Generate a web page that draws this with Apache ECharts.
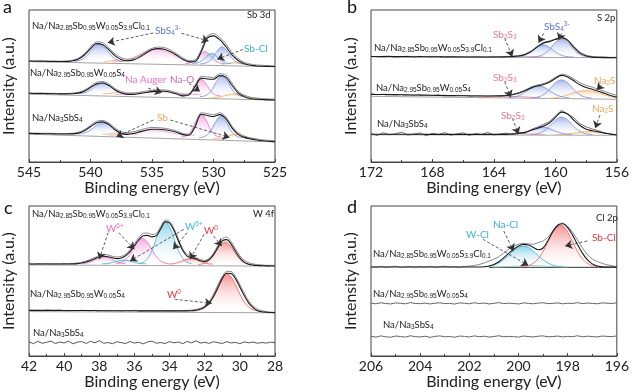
<!DOCTYPE html>
<html>
<head>
<meta charset="utf-8">
<script src="https://cdn.jsdelivr.net/npm/echarts@6/dist/echarts.min.js"></script>
<style>
  html, body { margin: 0; padding: 0; background: #fff; }
  #chart { width: 632px; height: 392px; }
</style>
</head>
<body>
<div id="chart"></div>
<script>
// ---- panel a : Sb 3d ----
const xA = [545,544.5,544,543.5,543,542.5,542,541.5,541,540.5,540,539.5,539,538.5,538,537.5,537,536.5,536,535.5,535,534.5,534,533.5,533,532.5,532,531.5,531,530.5,530,529.5,529,528.5,528,527.5,527,526.5,526,525.5,525];
const a1Fit = [66.4,66.3,66.3,66.2,66.1,66.1,66.1,66.5,67.6,70.4,74.6,77.9,77.2,73.8,69.8,67.4,66.6,67.2,69,71.6,73.8,74.6,74.2,72.6,70.2,67.6,65.9,66,72.5,81.5,83,80.5,76,70.5,66.8,64.6,63.6,63.2,63,62.9,62.8];
const a1Raw = [66.7,66.5,66.6,66.4,66.5,66.3,66.5,66.9,68.2,71.2,75.6,79,78.5,75,71,68.6,67.6,68.1,69.9,72.6,74.8,75.6,75.3,73.7,71.2,68.6,66.8,67.1,74,83,84.4,82,77.8,72,68,65.6,64.4,63.8,63.6,63.4,63.3];
const a2Fit = [45.2,45.1,45.1,45,44.9,44.8,44.8,44.9,45.3,46.6,49,51.4,52,50.3,47.4,45.4,44.5,44.5,45,45.7,46.3,46.6,46.5,45.9,44.7,43.5,44,49.5,55.2,54.6,54.4,56.8,55.8,50.5,45.4,43,41.8,41.3,41.1,40.9,40.8];
const a2Raw = [45.5,45.3,45.4,45.2,45.2,45,45.1,45.3,45.8,47.3,49.8,52.4,53,51.3,48.3,46.3,45.4,45.4,45.9,46.6,47.1,47.5,47.4,46.8,45.6,44.4,44.8,50.6,56.4,56,55.6,58,57.2,52,46.6,44,42.6,42,41.7,41.5,41.4];
const a3Fit = [18.8,18.7,18.6,18.6,18.5,18.4,18.4,18.5,19,20.6,23.2,25.8,26.4,24.6,21.2,18.8,18.2,18.7,19.8,20.9,21.5,21.5,21.2,20.6,19.6,18,17.6,23,31.4,30.6,29.8,31.2,28.6,22.5,18.2,16.2,15.2,14.5,14,13.7,13.4];
const a3Raw = [19.1,19,18.9,18.9,18.8,18.7,18.7,18.9,19.5,21.3,24.2,26.8,27.4,25.6,22.3,19.9,19.4,19.9,21,22.1,22.7,22.6,22.2,21.5,20.4,18.8,18.3,24,32.4,31.8,31,32.4,29.8,23.6,19.2,17,15.9,15.1,14.6,14.2,13.9];
const a1Bg = [[545,66], [525,62.7]];
const a2Bg = [[545,44.6], [525,40.7]];
const a3Bg = [[545,18.3], [525,13.2]];
const a1Sb1 = [[541.3,66.2],[540.8,67.1],[540.3,69.9],[539.8,74.7],[539.3,77.4],[538.8,74.7],[538.3,69.9],[537.8,67.1],[537.3,66.2]];
const a1Sb0 = [[538.9,66],[538.4,66.4],[537.9,66.9],[537.4,66.4],[536.9,66]];
const a1Aug = [[538.2,65.7],[537.7,66.1],[536.95,67.4],[536.2,70],[535.45,73],[534.7,74.4],[533.95,73],[533.2,70],[532.45,67.4],[531.7,66.1],[531.2,65.7]];
const a1NaO = [[532.3,64.8],[531.9,65.2],[531.5,67],[531.1,70.5],[530.7,72.6],[530.3,70.5],[529.9,67],[529.5,65.2],[529.1,64.8]];
const a1SbCl = [[531.75,64.7],[531.35,65.1],[530.95,66.6],[530.55,69.7],[530.15,71.5],[529.75,69.7],[529.35,66.6],[528.95,65.1],[528.55,64.7]];
const a1Sb2 = [[531.1,64.5],[530.65,65.1],[530.2,67.4],[529.75,72.5],[529.3,75.8],[528.85,72.5],[528.4,67.4],[527.95,65.1],[527.5,64.5]];
const a1Sb0b = [[529.3,64.2],[528.8,64.8],[528.3,65.4],[527.8,64.8],[527.3,64.2]];
const a2Sb1 = [[541,45],[540.5,45.5],[540,47.4],[539.5,50.4],[539,52],[538.5,50.4],[538,47.4],[537.5,45.5],[537,45]];
const a2Sb0 = [[539,44.8],[538.3,45.3],[537.6,45.8],[536.9,45.3],[536.2,44.8]];
const a2Aug = [[538,44.3],[537,44.7],[536,45.5],[535.2,46.2],[534.5,46.5],[533.8,46.2],[533,45.5],[532,44.7],[531,44.3]];
const a2NaO = [[532.6,43.4],[532.2,44],[531.8,46.3],[531.4,51.1],[531,54.5],[530.6,51.1],[530.2,46.3],[529.8,44],[529.4,43.4]];
const a2Sb2 = [[531.1,43],[530.65,43.7],[530.2,46.6],[529.75,52.9],[529.3,57],[528.85,52.9],[528.4,46.6],[527.95,43.7],[527.5,43]];
const a2Sb0b = [[530.3,42],[529.5,42.8],[528.9,44],[528.3,44.8],[527.7,44],[527.1,42.8],[526.3,42]];
const a3Sb1 = [[541,18.4],[540.5,19.1],[540,21],[539.5,24.2],[539,26],[538.5,24.2],[538,21],[537.5,19.1],[537,18.4]];
const a3Sb0 = [[539,18.1],[538.3,18.6],[537.6,19.2],[536.9,18.6],[536.2,18.1]];
const a3Aug = [[538.5,17.6],[537.5,18],[536.5,19.2],[535.7,20.6],[535,21.4],[534.3,20.6],[533.5,19.2],[532.5,18],[531.5,17.6]];
const a3NaO = [[532.6,16.5],[532.2,17.3],[531.8,20.7],[531.4,27.5],[531,31.5],[530.6,27.5],[530.2,20.7],[529.8,17.3],[529.4,16.5]];
const a3Sb2 = [[531.2,16],[530.75,16.7],[530.3,19.7],[529.85,26.1],[529.4,30.2],[528.95,26.1],[528.5,19.7],[528.05,16.7],[527.6,16]];
const a3Sb0b = [[530,15.3],[529.3,16],[528.7,17.5],[528.2,18.3],[527.7,17.5],[527.1,16],[526.4,15.3]];

// ---- panel b : S 2p ----
const xB = [172,171.6,171.2,170.8,170.4,170,169.6,169.2,168.8,168.4,168,167.6,167.2,166.8,166.4,166,165.6,165.2,164.8,164.4,164,163.6,163.2,162.8,162.4,162,161.6,161.2,160.8,160.4,160,159.6,159.2,158.8,158.4,158,157.6,157.2,156.8,156.4,156];
const b1Fit = [69.4,69.4,69.3,69.4,69.3,69.3,69.3,69.2,69.3,69.2,69.2,69.2,69.1,69.2,69.1,69.1,69.1,69.1,69.1,69.1,69.1,69.1,69.2,69.3,69.7,70.6,72.5,75.6,78.2,79.2,80.6,81.8,80,75.4,71.6,69.7,69,68.8,68.7,68.7,68.6];
const b1Raw = [69.6,69.2,69.5,69.7,69.1,69.4,69.6,69,69.5,69.3,69,69.4,69.3,68.9,69.4,69.2,69,69.3,69.2,68.9,69.3,69.2,69.1,69.5,69.9,70.9,72.8,75.9,78.6,79.6,81,82.3,80.6,76.1,72.3,70.2,69.4,69.1,69.2,68.8,69];
const b2Fit = [44.5,44.4,44.4,44.3,44.3,44.2,44.1,44.1,44,43.9,43.9,43.8,43.7,43.7,43.6,43.6,43.5,43.4,43.4,43.4,43.4,43.5,43.7,44.2,45.2,46.8,48.6,50,50.8,52.4,55,57,56,53.4,50.8,49,47.8,46.6,45.2,43.8,42.6];
const b2Raw = [44.8,44.3,44.6,44.5,44.1,44.4,44.3,43.9,44.2,44.1,43.7,44,43.9,43.6,43.8,43.7,43.4,43.7,43.5,43.3,43.6,43.6,43.9,44.5,45.6,47.2,49.2,50.6,51.5,53.1,55.8,57.8,57,54.6,52.2,50.4,49.2,47.8,46.5,45,43.8];
const b3Fit = [18.3,18.3,18.3,18.3,18.3,18.3,18.3,18.3,18.3,18.2,18.2,18.2,18.2,18.2,18.2,18.2,18.2,18.2,18.2,18.2,18.2,18.2,18.2,18.4,18.8,19.5,20.7,22,23.5,25.6,29.4,32.8,31.6,27.6,24,21.6,20.6,19.8,19,18.3,17.9];
const b3Raw = [18.8,17.4,19.3,17.9,18.6,19.6,17.7,18.4,19.1,17.2,18.9,18,19.4,17.6,18.5,19.2,17.5,18.7,18.1,19.5,17.8,18.4,19,18.2,19.6,18.9,21.2,22.8,24.6,26.4,30.2,34,31.4,29.2,25.2,23.1,21.8,20.6,19.1,18.6,17.6];
const b1Bg = [[172,69.2], [156,68.6]];
const b2Bg = [[172,43.2], [156,41.3]];
const b3Bg = [[172,17.9], [156,17.6]];
const b1Sb2S3 = [[164.4,69.1],[163.4,69.4],[162.6,69.7],[161.8,69.4],[160.8,69.1]];
const b1S1 = [[162.8,69.1],[162.4,69.3],[162,70.2],[161.6,72.4],[161.2,75.5],[160.8,77.1],[160.4,75.5],[160,72.4],[159.6,70.2],[159.2,69.3],[158.8,69.1]];
const b1S2 = [[161.6,69],[161.2,69.4],[160.8,70.7],[160.4,73.9],[160,78.6],[159.6,81],[159.2,78.6],[158.8,73.9],[158.4,70.7],[158,69.4],[157.6,69]];
const b2Sb2S3 = [[165,42.2],[164,42.6],[163,43.2],[162,42.8],[161,42.3]];
const b2S1 = [[163.1,42.3],[162.7,42.8],[162.3,44],[161.9,46.4],[161.5,49],[161.1,50.2],[160.7,49],[160.3,46.4],[159.9,44],[159.5,42.8],[159.1,42.3]];
const b2S2 = [[161.6,42.1],[161.2,42.6],[160.8,44.2],[160.4,47.6],[160,52],[159.6,54],[159.2,52],[158.8,47.6],[158.4,44.2],[158,42.6],[157.6,42.1]];
const b2Na2S = [[160.5,41.7],[160,42.3],[159.5,43.3],[159,44.8],[158.5,46.3],[158,47],[157.5,46.3],[157,44.8],[156.5,43.3],[156,42.3]];
const b3Sb2S3 = [[164.3,18],[163.3,18.4],[162.5,18.8],[161.7,18.4],[160.7,18]];
const b3S1 = [[162.9,18.1],[162.5,18.4],[162.1,19.2],[161.7,20.7],[161.3,22.4],[160.9,23.2],[160.5,22.4],[160.1,20.7],[159.7,19.2],[159.3,18.4],[158.9,18.1]];
const b3S2 = [[161.6,18.1],[161.2,18.6],[160.8,20.1],[160.4,23.4],[160,27.5],[159.6,29.5],[159.2,27.5],[158.8,23.4],[158.4,20.1],[158,18.6],[157.6,18.1]];
const b3Na2S = [[160,17.9],[159.3,18.3],[158.6,19.2],[157.8,20.1],[157,19.2],[156.3,18.3],[156,18]];

// ---- panel c : W 4f ----
const xC = [42,41.75,41.5,41.25,41,40.75,40.5,40.25,40,39.75,39.5,39.25,39,38.75,38.5,38.25,38,37.75,37.5,37.25,37,36.75,36.5,36.25,36,35.75,35.5,35.25,35,34.75,34.5,34.25,34,33.75,33.5,33.25,33,32.75,32.5,32.25,32,31.75,31.5,31.25,31,30.75,30.5,30.25,30,29.75,29.5,29.25,29,28.75,28.5,28.25,28];
const c1Fit = [61.3,61.3,61.3,61.3,61.3,61.3,61.3,61.3,61.3,61.3,61.4,61.6,62,62.7,63.7,64.9,66,66.5,66.2,65.4,64.9,65.3,66.8,69.6,73.5,77.5,80.2,80.4,79.4,80.2,84.8,89.4,88.6,83.8,76.8,70.4,66.6,65.6,64.8,63.5,63,64.2,67.4,72.4,76.8,77.6,74.6,69.8,65.4,62.6,61.2,60.6,60.3,60.2,60.1,60,60];
const c1Raw = [61.5,61.2,61.6,61.4,61.7,61.3,61.6,61.4,61.7,61.5,61.7,62,62.5,63.3,64.4,65.7,67,67.6,67.3,66.5,66,66.4,67.9,70.8,74.9,79,81.8,82,81,81.8,86.4,90.6,89.8,85,78,71.6,67.7,66.5,65.6,64.3,63.8,65.2,68.6,73.8,78.3,79.2,76.2,71.4,66.8,63.8,62.2,61.4,60.9,60.8,60.4,60.5,60.3];
const c2Fit = [30.4,30.4,30.4,30.4,30.4,30.4,30.4,30.4,30.3,30.3,30.3,30.3,30.3,30.3,30.3,30.3,30.2,30.2,30.2,30.2,30.2,30.2,30.2,30.2,30.2,30.1,30.1,30.1,30.1,30.1,30.1,30.1,30.1,30.1,30.1,30.1,30.1,30.2,30.5,31.2,32.5,35.2,39.5,45.4,51.6,55.2,55,51.6,46,40.2,35.4,32.2,30.2,29.5,29.2,29,28.9];
const c2Raw = [30.6,30.3,30.5,30.2,30.6,30.4,30.2,30.5,30.3,30.1,30.4,30.2,30.5,30.3,30.1,30.4,30.2,30.4,30.1,30.3,30.2,30,30.3,30.2,30.4,30.1,30,30.3,30.2,30,30.3,30.1,30.2,30,30.3,30.2,30.4,30.6,31.1,31.9,33.4,36.2,40.6,46.6,52.8,56.4,56.3,53,47.6,41.8,36.8,33.4,31.2,30.2,29.7,29.3,29.1];
const c3Raw = [9.4,8.2,9.8,8.5,9.1,10,8.3,9.3,8.7,9.9,8.1,9.2,9.6,8.4,9.8,8.8,10.2,8.5,9,8.2,9.5,8.9,8.3,9.7,8.6,9.2,8.1,9.4,9.9,8.5,9,8.3,9.6,8.8,9.3,8.2,9.7,8.7,10.1,8.6,9.2,8.4,9.5,8.9,8.3,9.6,8.7,9.1,8.2,9.4,8.8,9.3,8.5,9,8.6,9.2,8.8];
const c1Bg = [[42,60.7], [28,59.9]];
const c2Bg = [[42,29.6], [28,28.8]];
const c1W6a = [[39,61.6],[38.75,61.9],[38.5,62.7],[38.25,64.1],[38,65.6],[37.75,66.3],[37.5,65.6],[37.25,64.1],[37,62.7],[36.75,61.9],[36.5,61.6]];
const c1W5a = [[37.85,61.5],[37.6,61.6],[37.35,62],[37.1,62.8],[36.85,63.6],[36.6,64],[36.35,63.6],[36.1,62.8],[35.85,62],[35.6,61.6],[35.35,61.5]];
const c1W6b = [[37.05,61.6],[36.8,62.1],[36.55,63.7],[36.3,66.9],[36.05,71.7],[35.8,76.4],[35.55,78.4],[35.3,76.4],[35.05,71.7],[34.8,66.9],[34.55,63.7],[34.3,62.1],[34.05,61.6]];
const c1W5b = [[35.75,61.6],[35.5,62.5],[35.25,65.1],[35,70.3],[34.75,78.4],[34.5,85.9],[34.25,89.3],[34,85.9],[33.75,78.4],[33.5,70.3],[33.25,65.1],[33,62.5],[32.75,61.6]];
const c1W0a = [[34.05,61.3],[33.8,61.5],[33.55,62.2],[33.3,63.2],[33.05,64.5],[32.8,65],[32.55,64.5],[32.3,63.2],[32.05,62.2],[31.8,61.5],[31.55,61.3]];
const c1W0b = [[32.35,61],[32.1,61.5],[31.85,62.9],[31.6,65.7],[31.35,70.1],[31.1,74.2],[30.85,76],[30.6,74.2],[30.35,70.1],[30.1,65.7],[29.85,62.9],[29.6,61.5],[29.35,61]];
const c2W0 = [[32.75,29.9],[32.5,30.2],[32.25,30.9],[32,32.6],[31.75,36],[31.5,41.3],[31.25,47.5],[31,52.7],[30.75,54.8],[30.5,52.7],[30.25,47.5],[30,41.3],[29.75,36],[29.5,32.6],[29.25,30.9],[29,30.2],[28.75,29.9]];

// ---- panel d : Cl 2p ----
const xD = [206,205.8,205.6,205.4,205.2,205,204.8,204.6,204.4,204.2,204,203.8,203.6,203.4,203.2,203,202.8,202.6,202.4,202.2,202,201.8,201.6,201.4,201.2,201,200.8,200.6,200.4,200.2,200,199.8,199.6,199.4,199.2,199,198.8,198.6,198.4,198.2,198,197.8,197.6,197.4,197.2,197,196.8,196.6,196.4,196.2,196];
const d1Fit = [59.3,59.3,59.3,59.3,59.3,59.3,59.3,59.3,59.3,59.3,59.3,59.3,59.3,59.3,59.3,59.3,59.3,59.3,59.3,59.3,59.3,59.3,59.3,59.5,60,61,62.8,65.4,68.4,71.2,73.4,74.4,74,72.4,70.8,72,77,83,87.2,88.2,85.6,80.6,74.4,68.6,64.2,61.4,60,59.5,59.3,59.3,59.3];
const d1Raw = [59.6,59.1,59.8,59.2,59.5,59.9,59,59.4,59.7,59.1,59.6,59.3,59.8,59.2,59.5,59.9,59.3,59.6,59.1,59.7,60,60.3,61,62,63.2,64.6,66.2,68.6,71.2,73.2,74.6,75,74.8,74.4,75.6,76.6,79.2,83.6,87.6,88.8,86.6,82.6,77.4,72,67.6,64.6,63,61.8,60.8,60.2,59.6];
const d2Raw = [35.3,34.8,35.5,35,34.7,35.4,35.1,34.8,35.6,35,34.9,35.3,34.7,35.2,35.5,34.9,35.1,34.6,35.4,35.2,34.8,35.5,35,35.3,34.7,35.1,35.6,34.9,35.2,35,34.7,35.4,35.1,34.8,35.3,35.5,34.9,35.1,35.4,34.8,35.2,35,35.6,34.9,35.3,35.1,34.8,35.4,35.2,35,35.5];
const d3Raw = [13.2,12.6,13.4,12.8,12.5,13.3,13,12.6,13.5,12.9,12.7,13.2,12.4,13.1,13.4,12.8,13,12.5,13.3,13.1,12.7,13.4,12.9,13.2,12.6,13,13.5,12.8,13.1,12.9,12.6,13.3,13,12.7,13.2,13.4,12.8,13,13.3,12.7,13.1,12.9,13.5,12.8,13.2,13,12.7,13.3,13.1,12.9,13.4];
const d1Bg = [[201.2,59.1], [196,59.1]];
const d1NaCl = [[201.4,59.5],[201.2,59.8],[201,60.6],[200.8,62],[200.6,64.2],[200.4,67],[200.2,70],[200,72.4],[199.8,73.3],[199.6,72.4],[199.4,70],[199.2,67],[199,64.2],[198.8,62],[198.6,60.6],[198.4,59.8],[198.2,59.5]];
const d1WCl = [[201,59.3],[200.2,59.8],[199.5,60.3],[198.8,59.8],[198,59.3]];
const d1SbCl = [[199.9,59.4],[199.7,59.9],[199.5,60.9],[199.3,63.1],[199.1,67.1],[198.9,72.9],[198.7,79.6],[198.5,85.1],[198.3,87.3],[198.1,85.1],[197.9,79.6],[197.7,72.9],[197.5,67.1],[197.3,63.1],[197.1,60.9],[196.9,59.9],[196.7,59.4]];

// ---- drawing ----
const FONT = 'Lato, "Open Sans", sans-serif';
const COLORS = {
  blue:   { line: '#7f97dc', top: 'rgba(112,138,222,0.9)' },
  orange: { line: '#f3b26c', top: 'rgba(246,180,100,0.8)' },
  auger:  { line: '#f2a3d8', top: 'rgba(240,140,210,0.75)' },
  pink:   { line: '#e47acb', top: 'rgba(236,110,200,0.85)' },
  cyan:   { line: '#4bb8d8', top: 'rgba(60,180,220,0.85)' },
  red:    { line: '#f06868', top: 'rgba(238,70,70,0.85)' },
  rose:   { line: '#f08aa0', top: 'rgba(240,140,160,0.5)' },
  green:  { line: '#86d3b9', top: 'rgba(140,215,190,0.5)' }
};

const chart = echarts.init(document.getElementById('chart'));
const series = [];
const pairs = (xs, ys) => xs.map((x, i) => [x, ys[i]]);

function addLine(g, data, color, width, smooth, z) {
  series.push({
    type: 'line', xAxisIndex: g, yAxisIndex: g, data, symbol: 'none',
    smooth: smooth ? 0.3 : false, lineStyle: { color, width }, z: z || 3, silent: true
  });
}
function addComp(g, data, key) {
  const c = COLORS[key];
  series.push({
    type: 'line', xAxisIndex: g, yAxisIndex: g, data, symbol: 'none', smooth: 0.4,
    lineStyle: { color: c.line, width: 0.9 }, z: 2, silent: true,
    areaStyle: {
      origin: Math.min(data[0][1], data[data.length - 1][1]),
      color: new echarts.graphic.LinearGradient(0, 0, 0, 1, [
        { offset: 0, color: c.top },
        { offset: 1, color: 'rgba(255,255,255,0.15)' }
      ])
    }
  });
}
function arrows(list) {
  return {
    silent: true, symbol: ['none', 'arrow'], symbolSize: 7,
    lineStyle: { type: [3, 2], color: '#333', width: 0.8 },
    label: { show: false },
    data: list.map(a => [{ coord: a[0] }, { coord: a[1] }])
  };
}

// panel a
[a1Bg, a2Bg, a3Bg].forEach(b => addLine(0, b, '#9a9a9a', 0.9, false, 1));
[[a1Sb0, 'orange'], [a1Aug, 'auger'], [a1Sb0b, 'orange'], [a1NaO, 'pink'], [a1SbCl, 'cyan'], [a1Sb1, 'blue'], [a1Sb2, 'blue'],
 [a2Sb0, 'orange'], [a2Aug, 'auger'], [a2Sb0b, 'orange'], [a2NaO, 'pink'], [a2Sb1, 'blue'], [a2Sb2, 'blue'],
 [a3Sb0, 'orange'], [a3Aug, 'auger'], [a3Sb0b, 'orange'], [a3NaO, 'pink'], [a3Sb1, 'blue'], [a3Sb2, 'blue']]
  .forEach(c => addComp(0, c[0], c[1]));
[a1Raw, a2Raw, a3Raw].forEach(r => addLine(0, pairs(xA, r), '#8a8a8a', 1, true));
[a1Fit, a2Fit, a3Fit].forEach(f => addLine(0, pairs(xA, f), '#1a1a1a', 1.1, true));
series[series.length - 1].markLine = arrows([
  [[534.9, 84.9], [538.6, 78.5]], [[532.6, 84.7], [530.4, 79.6]], [[527.6, 74.1], [529.7, 67.6]],
  [[535.3, 48.5], [534.2, 45.6]], [[532, 51.8], [531.1, 46.3]],
  [[534.9, 27.6], [537.9, 16.6]], [[533.5, 27.6], [528.7, 16.2]]
]);

// panel b
[b1Bg, b2Bg, b3Bg].forEach(b => addLine(1, b, '#9a9a9a', 0.9, false, 1));
[[b1Sb2S3, 'rose'], [b1S1, 'blue'], [b1S2, 'blue'],
 [b2Sb2S3, 'rose'], [b2Na2S, 'orange'], [b2S1, 'blue'], [b2S2, 'blue'],
 [b3Sb2S3, 'rose'], [b3Na2S, 'orange'], [b3S1, 'blue'], [b3S2, 'blue']]
  .forEach(c => addComp(1, c[0], c[1]));
addLine(1, pairs(xB, b1Raw), '#8a8a8a', 1, false);
addLine(1, pairs(xB, b2Raw), '#8a8a8a', 1, false);
addLine(1, pairs(xB, b3Raw), '#666', 0.9, false);
[b1Fit, b2Fit, b3Fit].forEach(f => addLine(1, pairs(xB, f), '#1a1a1a', 1.1, true));
series[series.length - 1].markLine = arrows([
  [[160.75, 84.7], [161.1, 78.5]], [[159.6, 84.7], [159.8, 80.3]], [[163.3, 81.4], [162.8, 69.3]],
  [[163.3, 52.8], [162.9, 42.6]], [[157, 50.7], [157.3, 47.4]],
  [[162.8, 28.7], [162.4, 18.4]], [[157.1, 30.9], [157.4, 22.2]]
]);

// panel c
[c1Bg, c2Bg].forEach(b => addLine(2, b, '#9a9a9a', 0.9, false, 1));
[[c1W6a, 'pink'], [c1W5a, 'cyan'], [c1W6b, 'pink'], [c1W5b, 'cyan'], [c1W0a, 'red'], [c1W0b, 'red'], [c2W0, 'red']]
  .forEach(c => addComp(2, c[0], c[1]));
addLine(2, pairs(xC, c1Raw), '#8a8a8a', 1, true);
addLine(2, pairs(xC, c2Raw), '#8a8a8a', 1, true);
addLine(2, pairs(xC, c3Raw), '#444', 0.9, false);
[c1Fit, c2Fit].forEach(f => addLine(2, pairs(xC, f), '#1a1a1a', 1.1, true));
series[series.length - 1].markLine = arrows([
  [[37.5, 82.2], [38, 64.5]], [[36.9, 82.2], [36, 71.1]],
  [[33.2, 84.4], [36.25, 63.3]], [[33.0, 82.2], [33.8, 71.1]],
  [[32.04, 81.1], [32.84, 64.5]], [[31.5, 80], [31.03, 73.3]],
  [[33.7, 37.8], [31.6, 35.1]]
]);

// panel d
addLine(3, d1Bg, '#555', 1.3, false, 1);
[[d1WCl, 'green'], [d1NaCl, 'cyan'], [d1SbCl, 'red']].forEach(c => addComp(3, c[0], c[1]));
addLine(3, pairs(xD, d1Raw), '#8a8a8a', 1, false);
addLine(3, pairs(xD, d2Raw), '#555', 0.9, false);
addLine(3, pairs(xD, d3Raw), '#555', 0.9, false);
addLine(3, pairs(xD, d1Fit), '#1a1a1a', 1.1, true);
series[series.length - 1].markLine = arrows([
  [[200.6, 83.3], [200.2, 70]], [[201.45, 77.8], [199.6, 60.4]], [[197.2, 76.7], [198.1, 73.3]]
]);

function xAx(g, min, max, interval) {
  return {
    gridIndex: g, type: 'value', min, max, interval, inverse: true,
    name: 'Binding energy (eV)', nameLocation: 'middle', nameGap: 13,
    nameTextStyle: { fontSize: 16, fontFamily: FONT, color: '#222' },
    axisLine: { show: true, lineStyle: { color: '#444' } },
    axisTick: { inside: true, length: 3, lineStyle: { color: '#444' } },
    minorTick: { show: true, splitNumber: 2, length: 2, lineStyle: { color: '#444' } },
    axisLabel: { fontSize: 14, margin: 3, color: '#222', fontFamily: FONT },
    splitLine: { show: false }
  };
}
function yAx(g) {
  return {
    gridIndex: g, type: 'value', min: 0, max: 100,
    name: 'Intensity (a.u.)', nameLocation: 'middle', nameGap: 12,
    nameTextStyle: { fontSize: 16, fontFamily: FONT, color: '#222' },
    axisLine: { show: false }, axisTick: { show: false }, axisLabel: { show: false }, splitLine: { show: false }
  };
}

const RICH = {
  s: { fontSize: 6.5, lineHeight: 6, verticalAlign: 'bottom' },
  p: { fontSize: 6.5, lineHeight: 6, verticalAlign: 'top' }
};
function txt(x, y, text, color, size) {
  return {
    type: 'text', x, y, silent: true, z: 10,
    style: { text, fill: color || '#222', fontSize: size || 9.5, fontFamily: FONT, verticalAlign: 'middle', lineHeight: 12, rich: RICH }
  };
}
const S1 = 'Na/Na{s|2.85}Sb{s|0.95}W{s|0.05}S{s|3.9}Cl{s|0.1}';
const S2 = 'Na/Na{s|2.95}Sb{s|0.95}W{s|0.05}S{s|4}';
const S3 = 'Na/Na{s|3}SbS{s|4}';
const BLUE = '#5b74d0', PINK = '#ee6fc3', CYAN = '#3db3c8', ORANGE = '#f3a35c', RED = '#e8383a', ROSE = '#ee7790';

const texts = [
  txt(3, 7, 'a', '#111', 18), txt(347, 7, 'b', '#111', 18), txt(4, 208.5, 'c', '#111', 18), txt(347, 207.5, 'd', '#111', 18),
  txt(32, 26, S1), txt(155, 31, 'SbS{s|4}{p|3-}', BLUE, 10), txt(244, 49, 'Sb-Cl', CYAN, 10), txt(247, 15, 'Sb 3d'),
  txt(30, 73, S2), txt(125, 80, 'Na Auger', PINK, 10), txt(170, 80, 'Na-O', '#c566b6', 10),
  txt(32, 118, S3), txt(157, 118, 'Sb', ORANGE, 10),
  txt(597, 18, 'S 2p'), txt(544, 27, 'SbS{s|4}{p|3-}', BLUE, 10), txt(493, 35, 'Sb{s|2}S{s|3}', ROSE, 10),
  txt(374, 48, S1), txt(493, 78, 'Sb{s|2}S{s|3}', ROSE, 10), txt(594, 81, 'Na{s|2}S', ORANGE, 10),
  txt(376, 88, S2), txt(501, 116, 'Sb{s|2}S{s|3}', ROSE, 10), txt(592, 109, 'Na{s|2}S', ORANGE, 10),
  txt(377, 124, S3),
  txt(32, 214, S1), txt(253, 214, 'W 4f'), txt(106, 229, 'W{p|6+}', '#ec6ac6', 10),
  txt(185, 227, 'W{p|5+}', '#3fb9e3', 10), txt(204, 231, 'W{p|0}', RED, 10),
  txt(30, 294, S2), txt(167, 295, 'W{p|0}', RED, 10), txt(33, 333, S3),
  txt(596, 218, 'Cl 2p'), txt(493, 225, 'Na-Cl', '#3aaad8', 10), txt(466, 235, 'W-Cl', CYAN, 10),
  txt(592, 238, 'Sb-Cl', RED, 10),
  txt(373, 254, S1), txt(373, 294, S2), txt(383, 325, S3)
];

const gridBox = { show: true, borderColor: '#444', borderWidth: 1, backgroundColor: 'transparent' };
chart.setOption({
  animation: false,
  backgroundColor: '#fff',
  textStyle: { fontFamily: FONT },
  grid: [
    Object.assign({ left: 29, top: 10, width: 246, height: 152 }, gridBox),
    Object.assign({ left: 371, top: 10, width: 249, height: 152 }, gridBox),
    Object.assign({ left: 29, top: 206, width: 246, height: 150 }, gridBox),
    Object.assign({ left: 371, top: 206, width: 249, height: 150 }, gridBox)
  ],
  xAxis: [xAx(0, 525, 545, 5), xAx(1, 156, 172, 4), xAx(2, 28, 42, 2), xAx(3, 196, 206, 2)],
  yAxis: [yAx(0), yAx(1), yAx(2), yAx(3)],
  series,
  graphic: texts
});
</script>
</body>
</html>
